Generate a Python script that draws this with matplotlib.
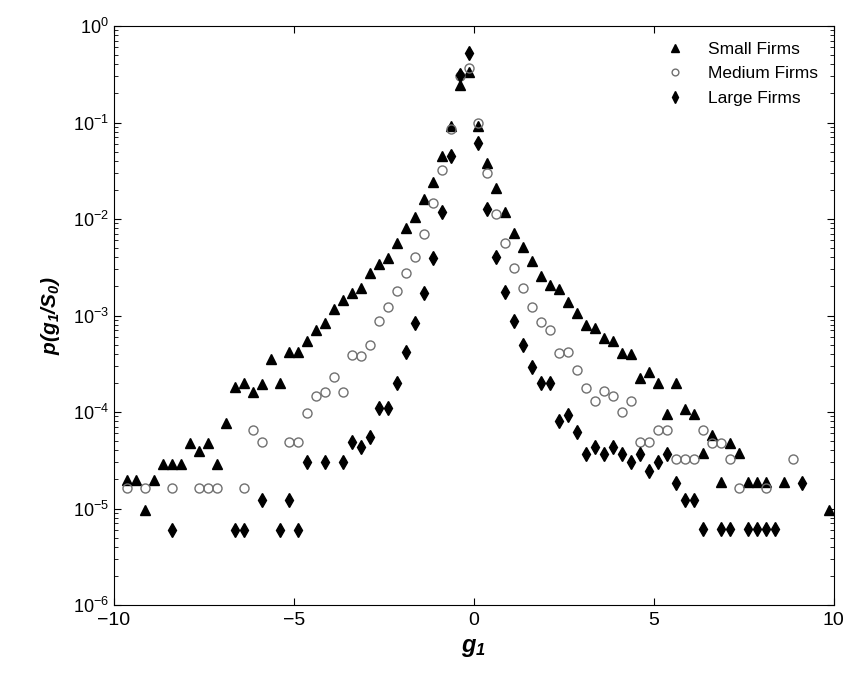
import numpy as np
import matplotlib
matplotlib.use('Agg')
import matplotlib.pyplot as plt
from matplotlib.ticker import LogLocator, FixedLocator

plt.rcParams['font.family'] = ['Liberation Sans', 'DejaVu Sans']
plt.rcParams['mathtext.fontset'] = 'custom'
plt.rcParams['mathtext.rm'] = 'Liberation Sans'
plt.rcParams['mathtext.it'] = 'Liberation Sans:italic:bold'
# bold-italic for everything inside \mathbf, digits of subscripts included
plt.rcParams['mathtext.bf'] = 'Liberation Sans:italic:bold'

# growth-rate bins
small_x = [-9.625, -9.375, -9.125, -8.875, -8.625, -8.375, -8.125, -7.875,
           -7.625, -7.375, -7.125, -6.875, -6.625, -6.375, -6.125, -5.875,
           -5.625, -5.375, -5.125, -4.875, -4.625, -4.375, -4.125, -3.875,
           -3.625, -3.375, -3.125, -2.875, -2.625, -2.375, -2.125, -1.875,
           -1.625, -1.375, -1.125, -0.875, -0.625, -0.375, -0.125,
           0.125, 0.375, 0.625, 0.875, 1.125, 1.375, 1.625, 1.875, 2.125,
           2.375, 2.625, 2.875, 3.125, 3.375, 3.625, 3.875, 4.125, 4.375,
           4.625, 4.875, 5.125, 5.375, 5.625, 5.875, 6.125, 6.375, 6.625,
           6.875, 7.125, 7.375, 7.625, 7.875, 8.125, 8.625, 9.875]
small_p = [1.97e-5, 1.97e-5, 9.6e-6, 1.97e-5, 2.88e-5, 2.88e-5, 2.88e-5, 4.8e-5,
           3.9e-5, 4.8e-5, 2.9e-5, 7.7e-5, 1.83e-4, 2.0e-4, 1.62e-4, 1.95e-4,
           3.5e-4, 2.0e-4, 4.2e-4, 4.2e-4, 5.5e-4, 7.0e-4, 8.4e-4, 1.16e-3,
           1.45e-3, 1.72e-3, 1.91e-3, 2.74e-3, 3.42e-3, 3.9e-3, 5.6e-3, 8.0e-3,
           1.06e-2, 1.61e-2, 2.4e-2, 4.5e-2, 9.1e-2, 0.245, 0.336,
           0.091, 0.038, 0.0208, 0.0117, 7.2e-3, 5.1e-3, 3.7e-3, 2.57e-3, 2.07e-3,
           1.87e-3, 1.39e-3, 1.05e-3, 8.0e-4, 7.5e-4, 5.9e-4, 5.5e-4, 4.06e-4, 4.0e-4,
           2.25e-4, 2.6e-4, 2.0e-4, 9.5e-5, 2.0e-4, 1.07e-4, 9.6e-5, 3.8e-5, 5.8e-5,
           1.87e-5, 4.8e-5, 3.8e-5, 1.87e-5, 1.87e-5, 1.87e-5, 1.87e-5, 9.6e-6]

medium_x = [-9.625, -9.125, -8.375, -7.625, -7.375, -7.125, -6.375, -6.125,
            -5.875, -5.125, -4.875, -4.625, -4.375, -4.125, -3.875, -3.625,
            -3.375, -3.125, -2.875, -2.625, -2.375, -2.125, -1.875, -1.625,
            -1.375, -1.125, -0.875, -0.625, -0.375, -0.125,
            0.125, 0.375, 0.625, 0.875, 1.125, 1.375, 1.625, 1.875, 2.125,
            2.375, 2.625, 2.875, 3.125, 3.375, 3.625, 3.875, 4.125, 4.375,
            4.625, 4.875, 5.125, 5.375, 5.625, 5.875, 6.125, 6.375, 6.625,
            6.875, 7.125, 7.375, 8.125, 8.875]
medium_p = [1.62e-5, 1.62e-5, 1.62e-5, 1.62e-5, 1.62e-5, 1.62e-5, 1.62e-5, 6.5e-5,
            4.85e-5, 4.85e-5, 4.85e-5, 9.8e-5, 1.47e-4, 1.62e-4, 2.29e-4, 1.62e-4,
            3.9e-4, 3.8e-4, 4.9e-4, 8.8e-4, 1.23e-3, 1.81e-3, 2.74e-3, 4.0e-3,
            7.0e-3, 0.0146, 0.032, 0.085, 0.30, 0.37,
            0.098, 0.030, 0.0114, 5.6e-3, 3.1e-3, 1.91e-3, 1.23e-3, 8.5e-4, 7.0e-4,
            4.06e-4, 4.2e-4, 2.7e-4, 1.79e-4, 1.3e-4, 1.65e-4, 1.47e-4, 9.9e-5, 1.3e-4,
            4.9e-5, 4.9e-5, 6.5e-5, 6.5e-5, 3.24e-5, 3.24e-5, 3.24e-5, 6.5e-5, 4.8e-5,
            4.8e-5, 3.24e-5, 1.62e-5, 1.62e-5, 3.24e-5]

large_x = [-8.375, -6.625, -6.375, -5.875, -5.375, -5.125, -4.875, -4.625,
           -4.125, -3.625, -3.375, -3.125, -2.875, -2.625, -2.375, -2.125,
           -1.875, -1.625, -1.375, -1.125, -0.875, -0.625, -0.375, -0.125,
           0.125, 0.375, 0.625, 0.875, 1.125, 1.375, 1.625, 1.875, 2.125,
           2.375, 2.625, 2.875, 3.125, 3.375, 3.625, 3.875, 4.125, 4.375,
           4.625, 4.875, 5.125, 5.375, 5.625, 5.875, 6.125, 6.375, 6.875,
           7.125, 7.625, 7.875, 8.125, 8.375, 9.125]
large_p = [6.0e-6, 6.0e-6, 6.0e-6, 1.22e-5, 6.0e-6, 1.22e-5, 6.0e-6, 3.05e-5,
           3.05e-5, 3.05e-5, 4.9e-5, 4.3e-5, 5.5e-5, 1.1e-4, 1.1e-4, 2.0e-4,
           4.2e-4, 8.4e-4, 1.72e-3, 3.9e-3, 0.0119, 0.045, 0.31, 0.52,
           0.061, 0.0127, 4.0e-3, 1.74e-3, 8.8e-4, 5.0e-4, 2.9e-4, 1.98e-4, 1.98e-4,
           8.1e-5, 9.3e-5, 6.2e-5, 3.7e-5, 4.3e-5, 3.67e-5, 4.3e-5, 3.67e-5, 3.05e-5,
           3.67e-5, 2.45e-5, 3.05e-5, 3.67e-5, 1.83e-5, 1.22e-5, 1.22e-5, 6.1e-6, 6.1e-6,
           6.1e-6, 6.1e-6, 6.1e-6, 6.1e-6, 6.1e-6, 1.83e-5]

xticks = [-10, -5, 0, 5, 10]
xtick_labels = ['\u221210', '\u22125', '0', '5', '10']

fig = plt.figure(figsize=(8.61, 6.73), dpi=100)
ax = fig.add_axes([114/861, 1 - 605/673, (833.5 - 114)/861, (605 - 26)/673])

ax.plot(small_x, small_p, ls='none', marker='^', ms=7.5, mfc='black',
        mec='black', label='Small Firms')
ax.plot(medium_x, medium_p, ls='none', marker='o', ms=6.5, mfc='none',
        mec='#707070', mew=1.0, label='Medium Firms')
ax.plot(large_x, large_p, ls='none', marker='d', ms=7.5, mfc='black',
        mec='black', label='Large Firms')

ax.set_yscale('log')
ax.set_xlim(-10, 10)
ax.set_ylim(1e-6, 1)
ax.xaxis.set_major_locator(FixedLocator(xticks))
ax.set_xticklabels(xtick_labels)
ax.yaxis.set_major_locator(LogLocator(base=10, numticks=10))
ax.yaxis.set_minor_locator(LogLocator(base=10, subs=np.arange(2, 10), numticks=10))
ax.tick_params(which='both', direction='in', top=True, right=True)
ax.tick_params(axis='y', labelsize=13)
ax.tick_params(axis='x', labelsize=14, pad=5)
ax.tick_params(which='major', length=5)
ax.tick_params(which='minor', length=3)

ax.set_xlabel(r'$\mathbf{g_1}$', fontsize=17, labelpad=6)
ax.set_ylabel(r'$\mathbf{p(g_1/S_0)}$', fontsize=15, labelpad=8)

ax.legend(loc='upper right', frameon=False, fontsize=12.5, markerscale=0.75,
          handlelength=1.0, handletextpad=1.4, labelspacing=0.55,
          borderaxespad=0.5)

fig.savefig('out.png', dpi=100)
